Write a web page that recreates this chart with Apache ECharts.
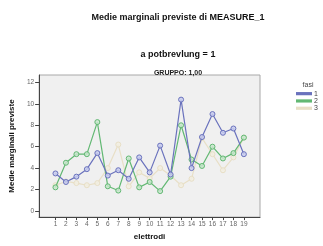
<!DOCTYPE html>
<html><head><meta charset="utf-8">
<script src="https://cdn.jsdelivr.net/npm/echarts@6/dist/echarts.min.js"></script>
<style>html,body{margin:0;padding:0;background:#fff}#c{width:323px;height:246px}</style>
</head><body><div id="c"></div>
<script>
const categories = ['1','2','3','4','5','6','7','8','9','10','11','12','13','14','15','16','17','18','19'];
const fase1 = [3.5, 2.7, 3.2, 3.9, 5.4, 3.3, 3.8, 3.0, 5.0, 3.6, 6.1, 3.4, 10.4, 4.0, 6.9, 9.05, 7.3, 7.7, 5.3];
const fase2 = [2.2, 4.5, 5.3, 5.3, 8.3, 2.3, 1.9, 4.9, 2.2, 2.7, 1.85, 3.2, 8.0, 4.8, 4.2, 6.0, 4.9, 5.4, 6.85];
const fase3 = [2.4, 2.75, 2.6, 2.4, 2.6, 4.0, 6.2, 2.3, 3.6, 3.05, 4.0, 3.3, 2.4, 3.0, 6.8, 5.3, 3.8, 5.0, 6.85];
const seriesNames = ['1','2','3'];
const yTicks = [0,2,4,6,8,10,12];
const colors = ['#6a72bd','#62b873','#e8dfc6'];
const fills = ['rgba(200,204,238,0.85)','rgba(200,230,205,0.85)','rgba(242,238,226,0.85)'];

const toPairs = arr => arr.map((v,i)=>[Number(categories[i]), v]);
const xVals = categories.map(Number);

const chart = echarts.init(document.getElementById('c'), null, {renderer:'canvas'});
const font = 'Arial, "Liberation Sans", sans-serif';
chart.setOption({
  animation:false,
  backgroundColor:'#fff',
  title:[
    {text:'Medie marginali previste di MEASURE_1', left:173, top:8, textAlign:'center',
     textStyle:{fontSize:9, fontWeight:'bold', color:'#111', fontFamily:font}},
    {text:'a potbrevlung = 1', left:173, top:45, textAlign:'center',
     textStyle:{fontSize:9, fontWeight:'bold', color:'#111', fontFamily:font}},
    {text:'GRUPPO: 1,00', left:173, top:65, textAlign:'center',
     textStyle:{fontSize:7, fontWeight:'bold', color:'#222', fontFamily:font}},
    {text:'fasi', left:303, top:77, textAlign:'center',
     textStyle:{fontSize:7, fontWeight:'normal', color:'#444', fontFamily:font}}
  ],
  legend:{
    orient:'vertical', left:291, top:85, itemWidth:14, itemHeight:1.2, itemGap:0,
    icon:'rect', data:seriesNames,
    textStyle:{fontSize:7, lineHeight:7.3, color:'#444', fontFamily:font, padding:[0,0,0,-2]}
  },
  grid:{left:31, right:63, top:75, bottom:24, show:true, backgroundColor:'#f0f0f0', borderColor:'#a8a8a8', borderWidth:1},
  xAxis:{
    type:'value', min:-0.56, max:20.54,
    name:'elettrodi', nameLocation:'middle', nameGap:14,
    nameTextStyle:{fontSize:8, fontWeight:'bold', color:'#111', fontFamily:font},
    axisLine:{onZero:false, lineStyle:{color:'#444', width:1}},
    axisTick:{customValues:xVals, length:3, lineStyle:{color:'#444'}},
    axisLabel:{customValues:xVals, fontSize:6.5, color:'#666', margin:4, fontFamily:font},
    splitLine:{show:false}
  },
  yAxis:{
    type:'value', min:-0.58, max:12.7,
    name:'Medie marginali previste', nameLocation:'middle', nameGap:17, nameRotate:90,
    nameTextStyle:{fontSize:8, fontWeight:'bold', color:'#111', fontFamily:font},
    axisLine:{show:true, onZero:false, lineStyle:{color:'#444', width:1}},
    axisTick:{show:true, customValues:yTicks, length:4, lineStyle:{color:'#444'}},
    axisLabel:{customValues:yTicks, fontSize:6.5, color:'#666', margin:5, fontFamily:font},
    splitLine:{show:false}
  },
  series:[fase1,fase2,fase3].map((d,i)=>({
    name:seriesNames[i], type:'line', data:toPairs(d),
    symbol:'circle', symbolSize:5, showSymbol:true,
    lineStyle:{color:colors[i], width:1.2},
    itemStyle:{color:fills[i], borderColor:colors[i], borderWidth:1},
    z:3-i
  }))
});
</script></body></html>
